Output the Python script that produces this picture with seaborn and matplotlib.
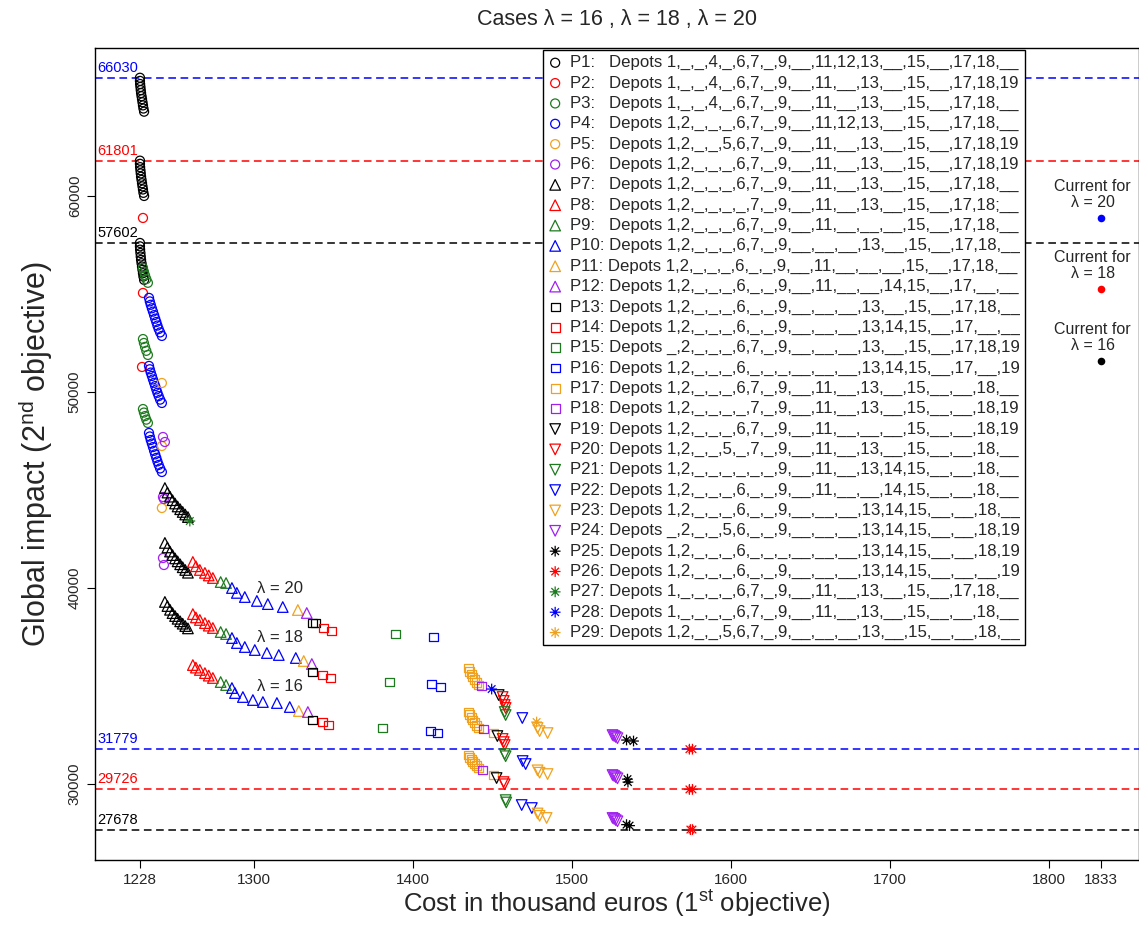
import pandas as pd
import matplotlib
matplotlib.use("Agg")
import matplotlib.pyplot as plt
from matplotlib.path import Path
import seaborn as sns

# ---- data: (cost in k euros, global impact) for each Pareto group, all lambdas ----
P1 = [(1228.0, 66030), (1228.0, 65870), (1228.1, 65710), (1228.3, 65560), (1228.5, 65400), (1228.7, 65250),
      (1229.0, 65090), (1229.3, 64940), (1229.6, 64780), (1229.9, 64620), (1230.2, 64460), (1230.6, 64300),
      (1228.0, 61801), (1228.0, 61640), (1228.1, 61470), (1228.3, 61310), (1228.5, 61150), (1228.7, 60980),
      (1229.0, 60820), (1229.3, 60650), (1229.6, 60490), (1229.9, 60330), (1230.2, 60160), (1230.6, 60000),
      (1228.0, 57602), (1228.0, 57430), (1228.1, 57260), (1228.3, 57090), (1228.5, 56910), (1228.7, 56740),
      (1229.0, 56570), (1229.3, 56400), (1229.6, 56230), (1229.9, 56060), (1230.2, 55890), (1230.6, 55720)]
P2 = [(1229.9, 58878), (1229.9, 55051), (1229.3, 51276)]
P3 = [(1229.9, 56330), (1230.5, 56140), (1231.2, 55950), (1232.0, 55760), (1233.0, 55570),
      (1229.9, 52700), (1230.5, 52500), (1231.2, 52300), (1232.0, 52100), (1233.0, 51890),
      (1229.9, 49130), (1230.5, 48950), (1231.2, 48770), (1232.0, 48590), (1233.0, 48420)]
P4 = [(1233.7, 54800), (1234.2, 54620), (1234.8, 54450), (1235.5, 54270), (1236.2, 54100), (1236.9, 53920),
      (1237.6, 53740), (1238.3, 53570), (1239.0, 53390), (1239.8, 53210), (1240.7, 53040), (1241.8, 52860),
      (1233.7, 51330), (1234.2, 51160), (1234.8, 50990), (1235.5, 50820), (1236.2, 50640), (1236.9, 50470),
      (1237.6, 50300), (1238.3, 50130), (1239.0, 49960), (1239.8, 49790), (1240.7, 49610), (1241.8, 49440),
      (1233.7, 47910), (1234.2, 47730), (1234.8, 47550), (1235.5, 47370), (1236.2, 47190), (1236.9, 47000),
      (1237.6, 46820), (1238.3, 46640), (1239.0, 46460), (1239.8, 46280), (1240.7, 46100), (1241.8, 45920)]
P5 = [(1241.8, 50459), (1241.8, 47245), (1241.8, 44082)]
P6 = [(1242.5, 47704), (1243.7, 47449), (1242.5, 44643), (1243.1, 44541), (1242.5, 41531), (1243.1, 41174)]
P7 = [(1243.7, 45100), (1245.3, 44870), (1246.9, 44660), (1248.5, 44480), (1250.1, 44310),
      (1251.7, 44160), (1253.3, 44020), (1254.9, 43880), (1256.5, 43750), (1258.2, 43620),
      (1243.7, 42300), (1245.3, 42070), (1246.9, 41860), (1248.5, 41680), (1250.1, 41510),
      (1251.7, 41360), (1253.3, 41210), (1254.9, 41060), (1256.5, 40920), (1258.2, 40780),
      (1243.7, 39290), (1245.3, 39080), (1246.9, 38890), (1248.5, 38720), (1250.1, 38570),
      (1251.7, 38430), (1253.3, 38300), (1254.9, 38180), (1256.5, 38060), (1258.2, 37940)]
P8 = [(1261.3, 41330), (1263.2, 41110), (1265.7, 40920), (1268.9, 40770), (1271.3, 40640), (1273.9, 40510),
      (1261.3, 38670), (1263.2, 38500), (1265.7, 38370), (1268.9, 38210), (1271.3, 38080), (1273.9, 37960),
      (1261.3, 36070), (1263.2, 35940), (1265.7, 35820), (1268.9, 35660), (1271.3, 35530), (1273.9, 35410)]
P9 = [(1278.8, 40306), (1282.2, 40255), (1278.8, 37755), (1282.2, 37653), (1278.8, 35204), (1282.2, 35051)]
P10 = [(1285.9, 40000), (1289.0, 39750), (1294.0, 39540), (1301.6, 39340), (1308.5, 39180), (1317.9, 39030),
       (1285.9, 37449), (1289.0, 37194), (1294.0, 36990), (1300.3, 36837), (1307.9, 36684), (1315.4, 36582),
       (1326.1, 36429),
       (1285.9, 34898), (1287.8, 34643), (1292.8, 34439), (1299.1, 34286), (1305.4, 34184), (1314.2, 34133),
       (1322.3, 33929)]
P11 = [(1327.4, 38878), (1331.1, 36276), (1328.0, 33725)]
P12 = [(1333.0, 38725), (1336.2, 36123), (1333.7, 33674)]
P13 = [(1336.8, 38214), (1338.7, 38214), (1336.8, 35714), (1336.8, 33266)]
P14 = [(1343.7, 37959), (1348.8, 37806), (1343.1, 35561), (1348.1, 35408), (1343.1, 33163), (1346.9, 33010)]
P15 = [(1388.8, 37653), (1385.2, 35204), (1380.8, 32857)]
P16 = [(1412.9, 37500), (1411.6, 35102), (1417.3, 34949), (1411.0, 32704), (1415.4, 32602)]
P17 = [(1434.9, 35920), (1435.6, 35760), (1436.5, 35610), (1437.5, 35460), (1438.6, 35320), (1439.8, 35180),
       (1441.1, 35050),
       (1434.9, 33670), (1435.6, 33530), (1436.5, 33400), (1437.5, 33270), (1438.6, 33140), (1439.8, 33000),
       (1441.1, 32860), (1450.6, 32602),
       (1434.9, 31480), (1435.6, 31370), (1436.5, 31260), (1437.5, 31150), (1438.6, 31040), (1439.8, 30930),
       (1441.1, 30820), (1450.6, 30459)]
P18 = [(1443.1, 35000), (1444.4, 32806), (1443.7, 30715)]
P19 = [(1453.8, 34541), (1453.0, 32449), (1452.5, 30306)]
P20 = [(1456.3, 34440), (1457.0, 34240), (1457.6, 34030), (1458.2, 33880),
       (1456.3, 32300), (1457.0, 32140), (1457.6, 31990), (1456.9, 30100), (1457.6, 29990)]
P21 = [(1457.6, 33674), (1458.2, 33520), (1457.6, 31530), (1458.2, 31420), (1458.2, 29180), (1458.6, 29060)]
P22 = [(1468.7, 33368), (1468.9, 31174), (1470.8, 31021), (1468.3, 28929), (1474.7, 28776)]
P23 = [(1478.3, 32860), (1479.6, 32700), (1484.6, 32600), (1478.3, 30700), (1479.6, 30580), (1484.6, 30510),
       (1478.3, 28500), (1479.6, 28380), (1484.0, 28270)]
P24 = [(1525.5, 32500), (1526.5, 32450), (1527.5, 32400), (1528.6, 32340),
       (1525.5, 30460), (1526.5, 30410), (1527.5, 30350), (1528.6, 30290),
       (1525.5, 28270), (1526.5, 28220), (1527.5, 28160), (1528.6, 28100)]
P25 = [(1534.3, 32245), (1538.7, 32194), (1534.9, 30250), (1535.2, 30100), (1534.3, 27930), (1536.2, 27880)]
P26 = [(1573.9, 31779), (1575.8, 31779), (1573.9, 29726), (1575.8, 29726), (1574.5, 27678), (1575.8, 27678)]
P27 = [(1259.4, 43418)]
P28 = [(1449.4, 34847)]
P29 = [(1477.7, 33163)]

groups = [P1, P2, P3, P4, P5, P6, P7, P8, P9, P10, P11, P12, P13, P14, P15,
          P16, P17, P18, P19, P20, P21, P22, P23, P24, P25, P26, P27, P28, P29]

depots = [
    "1,_,_,4,_,6,7,_,9,__,11,12,13,__,15,__,17,18,__",
    "1,_,_,4,_,6,7,_,9,__,11,__,13,__,15,__,17,18,19",
    "1,_,_,4,_,6,7,_,9,__,11,__,13,__,15,__,17,18,__",
    "1,2,_,_,_,6,7,_,9,__,11,12,13,__,15,__,17,18,__",
    "1,2,_,_,5,6,7,_,9,__,11,__,13,__,15,__,17,18,19",
    "1,2,_,_,_,6,7,_,9,__,11,__,13,__,15,__,17,18,19",
    "1,2,_,_,_,6,7,_,9,__,11,__,13,__,15,__,17,18,__",
    "1,2,_,_,_,_,7,_,9,__,11,__,13,__,15,__,17,18;__",
    "1,2,_,_,_,6,7,_,9,__,11,__,__,__,15,__,17,18,__",
    "1,2,_,_,_,6,7,_,9,__,__,__,13,__,15,__,17,18,__",
    "1,2,_,_,_,6,_,_,9,__,11,__,__,__,15,__,17,18,__",
    "1,2,_,_,_,6,_,_,9,__,11,__,__,14,15,__,17,__,__",
    "1,2,_,_,_,6,_,_,9,__,__,__,13,__,15,__,17,18,__",
    "1,2,_,_,_,6,_,_,9,__,__,__,13,14,15,__,17,__,__",
    "_,2,_,_,_,6,7,_,9,__,__,__,13,__,15,__,17,18,19",
    "1,2,_,_,_,6,_,_,_,__,__,__,13,14,15,__,17,__,19",
    "1,2,_,_,_,6,7,_,9,__,11,__,13,__,15,__,__,18,__",
    "1,2,_,_,_,_,7,_,9,__,11,__,13,__,15,__,__,18,19",
    "1,2,_,_,_,6,7,_,9,__,11,__,__,__,15,__,__,18,19",
    "1,2,_,_,5,_,7,_,9,__,11,__,13,__,15,__,__,18,__",
    "1,2,_,_,_,_,_,_,9,__,11,__,13,14,15,__,__,18,__",
    "1,2,_,_,_,6,_,_,9,__,11,__,__,14,15,__,__,18,__",
    "1,2,_,_,_,6,_,_,9,__,__,__,13,14,15,__,__,18,__",
    "_,2,_,_,5,6,_,_,9,__,__,__,13,14,15,__,__,18,19",
    "1,2,_,_,_,6,_,_,_,__,__,__,13,14,15,__,__,18,19",
    "1,2,_,_,_,6,_,_,9,__,__,__,13,14,15,__,__,__,19",
    "1,_,_,_,_,6,7,_,9,__,11,__,13,__,15,__,17,18,__",
    "1,_,_,_,_,6,7,_,9,__,11,__,13,__,15,__,__,18,__",
    "1,2,_,_,5,6,7,_,9,__,__,__,13,__,15,__,__,18,__",
]

ref_impacts = [66030, 61801, 57602, 31779, 29726, 27678]
ref_colors = ["#0000FF", "#FF0000", "#000000", "#0000FF", "#FF0000", "#000000"]

lambdas = [20, 18, 16]
current_cost = 1833
current_impacts = [58878, 55255, 51582]
current_colors = ["#0000FF", "#FF0000", "#000000"]

lambda_label_pos = [(1316, 40000), (1316, 37500), (1316, 35000)]

x_ticks = [1228, 1300, 1400, 1500, 1600, 1700, 1800, 1833]
y_ticks = [30000, 40000, 50000, 60000]

# ---- styles ----
palette = ["#000000", "#FF0000", "#1E7A1E", "#0000FF", "#F0A21E", "#A020F0"]
r = 0.7071
asterisk = Path([(-1, 0), (1, 0), (0, -1), (0, 1), (-r, -r), (r, r), (-r, r), (r, -r)],
                [Path.MOVETO, Path.LINETO] * 4)
shape_cycle = [("o", 42), ("^", 58), ("s", 40), ("v", 58), (asterisk, 60)]

sns.set_theme(style="white")
plt.rcParams["font.family"] = ["Liberation Sans", "DejaVu Sans"]
plt.rcParams["mathtext.fontset"] = "custom"
plt.rcParams["mathtext.rm"] = "Liberation Sans"
plt.rcParams["mathtext.it"] = "Liberation Sans:italic"

fig = plt.figure(figsize=(11.39, 9.35), dpi=100)
ax = fig.add_axes([0.0834, 0.0806, 0.9166, 0.8684])

for v, c in zip(ref_impacts, ref_colors):
    ax.axhline(v, color=c, ls=(0, (5, 3)), lw=1.1, zorder=1)
    ax.text(0.002, v + 150, f"{v}", color=c, fontsize=10.5, ha="left", va="bottom",
            transform=ax.get_yaxis_transform())

for i, pts in enumerate(groups):
    df = pd.DataFrame(pts, columns=["cost", "impact"])
    marker, size = shape_cycle[i // 6]
    col = palette[i % 6]
    num = f"P{i + 1}:"
    pad = "   " if i < 9 else " "
    sns.scatterplot(data=df, x="cost", y="impact", ax=ax, marker=marker, s=size,
                    color=col, facecolor="none", edgecolor=col, linewidth=0.9,
                    label=f"{num}{pad}Depots {depots[i]}", zorder=3)

cur = pd.DataFrame({"cost": [current_cost] * 3, "impact": current_impacts, "lam": lambdas})
for (_, row), c in zip(cur.iterrows(), current_colors):
    sns.scatterplot(x=[row["cost"]], y=[row["impact"]], ax=ax, s=30, color=c,
                    edgecolor=c, linewidth=0, zorder=3)
    ax.annotate(f"Current for\nλ = {int(row['lam'])}", xy=(row["cost"], row["impact"]),
                xytext=(-6, 6), textcoords="offset points", ha="center", va="bottom",
                fontsize=11.5, linespacing=1.05)

for (lx, ly), lam in zip(lambda_label_pos, lambdas):
    ax.text(lx, ly, f"λ = {lam}", ha="center", va="center", fontsize=12)

ax.set_xlim(1199.7, 1856.9)
ax.set_ylim(26144, 67564)
ax.set_xticks(x_ticks)
ax.set_yticks(y_ticks)
ax.tick_params(axis="both", direction="out", length=6, width=0.8, labelsize=11,
               bottom=True, left=True, color="black")
for lab in ax.get_yticklabels():
    lab.set_rotation(90)
    lab.set_va("center")
for sp in ax.spines.values():
    sp.set_color("black")
    sp.set_linewidth(1.0)

ax.set_title("Cases λ = 16 , λ = 18 , λ = 20", fontsize=15.5, pad=16)
ax.set_xlabel(r"Cost in thousand euros (1$^{\mathrm{st}}$ objective)", fontsize=18.5, labelpad=1)
ax.set_ylabel(r"Global impact (2$^{\mathrm{nd}}$ objective)", fontsize=22, labelpad=9)

leg = ax.legend(loc="upper left", bbox_to_anchor=(0.4287, 0.997), borderaxespad=0,
                fontsize=12.1, scatterpoints=1, handlelength=0.9, handletextpad=0.45,
                labelspacing=0.31, borderpad=0.3, frameon=True, fancybox=False,
                edgecolor="black", framealpha=1)
leg.get_frame().set_linewidth(1.0)

fig.savefig("out.png", dpi=100)
